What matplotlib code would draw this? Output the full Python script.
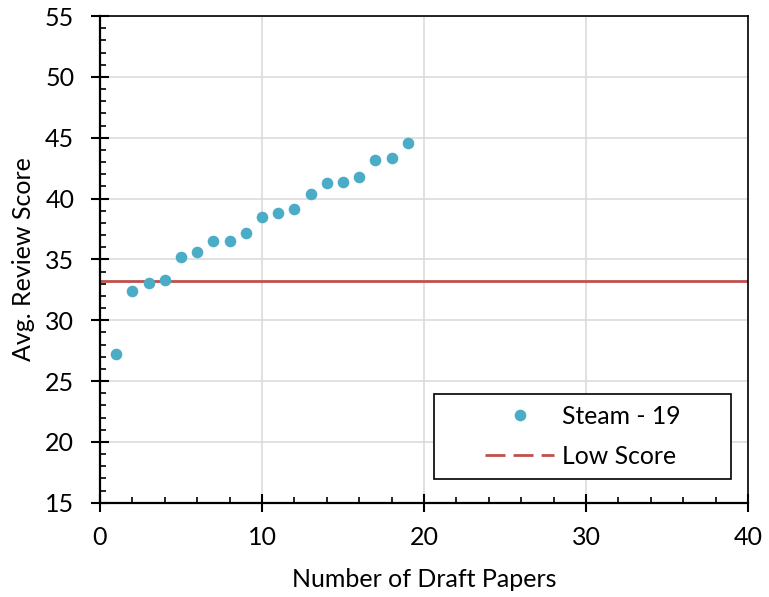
import matplotlib
matplotlib.use("Agg")
import matplotlib.pyplot as plt
from matplotlib.lines import Line2D
from matplotlib.patches import Rectangle
from matplotlib.ticker import MultipleLocator

plt.rcParams['font.family'] = ['Lato', 'DejaVu Sans']

drafts = list(range(1, 20))
scores = [27.2, 32.4, 33.05, 33.3, 35.2, 35.6, 36.5, 36.5, 37.2, 38.45,
          38.8, 39.15, 40.4, 41.3, 41.4, 41.8, 43.15, 43.35, 44.6]
low_score = 33.26
series_label = "Steam - 19"
line_label = "Low Score"

fig = plt.figure(figsize=(7.69, 5.97), dpi=100)
ax = fig.add_axes([0.130, 0.158, 0.8427, 0.815])

ax.grid(True, color='#d9d9d9', linewidth=1.1, zorder=0)
ax.set_axisbelow(True)
ax.axhline(low_score, color='#c0504d', linewidth=2, zorder=2)
ax.scatter(drafts, scores, s=70, color='#4bacc6', zorder=3, linewidths=0)

ax.set_xlim(0, 40)
ax.set_ylim(15, 55)
ax.xaxis.set_major_locator(MultipleLocator(10))
ax.xaxis.set_minor_locator(MultipleLocator(2))
ax.yaxis.set_major_locator(MultipleLocator(5))
ax.yaxis.set_minor_locator(MultipleLocator(1))

ax.tick_params(which='major', direction='inout', length=13, width=1.5, labelsize=18)
ax.tick_params(axis='y', which='major', pad=12)
ax.tick_params(axis='x', which='major', pad=10)
ax.tick_params(which='minor', direction='in', length=4.5, width=1.2)
for s in ['left', 'bottom']:
    ax.spines[s].set_linewidth(1.6)
for s in ['top', 'right']:
    ax.spines[s].set_linewidth(1.2)

ax.set_xlabel("Number of Draft Papers", fontsize=18, labelpad=14)
ax.set_ylabel("Avg. Review Score", fontsize=18, labelpad=7)

# legend frame
ax.add_patch(Rectangle((0.515, 0.048), 0.459, 0.175, transform=ax.transAxes,
                       facecolor='white', edgecolor='black', linewidth=1.2,
                       zorder=5))

handles = [
    Line2D([], [], marker='o', linestyle='none', color='#4bacc6', markersize=8.4,
           markeredgewidth=0),
    Line2D([], [], color='#c0504d', linestyle=(0, (7.2, 2.9)), linewidth=2),
]
leg = ax.legend(handles, [series_label, line_label], loc='center',
                bbox_to_anchor=(0.745, 0.136), fontsize=17.8, frameon=False,
                handlelength=2.8, handletextpad=0.32, labelspacing=0.68,
                borderpad=0)
leg.set_zorder(6)

fig.savefig("out.png", dpi=100)
